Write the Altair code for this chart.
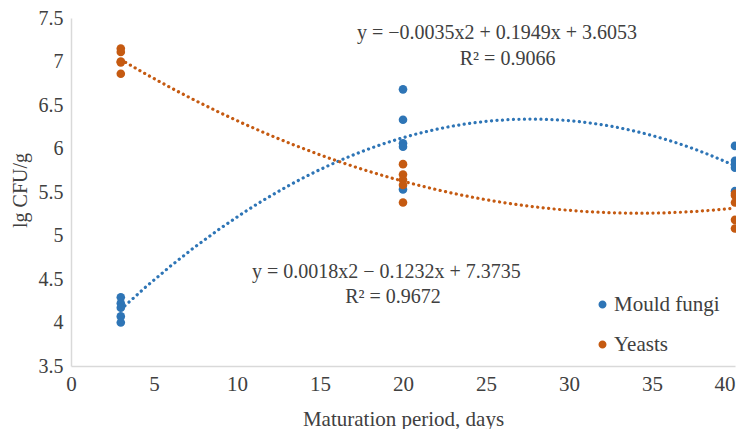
import altair as alt
import pandas as pd

# Data
days_mould = [3, 3, 3, 3, 3, 20, 20, 20, 20, 20, 40, 40, 40, 40, 40]
cfu_mould = [4.29, 4.22, 4.17, 4.07, 4.00, 6.68, 6.33, 6.06, 6.02, 5.53, 6.03, 5.86, 5.82, 5.78, 5.51]
days_yeast = [3, 3, 3, 3, 3, 20, 20, 20, 20, 20, 40, 40, 40, 40, 40]
cfu_yeast = [7.15, 7.11, 7.00, 6.99, 6.86, 5.82, 5.70, 5.64, 5.58, 5.38, 5.48, 5.46, 5.38, 5.18, 5.08]

series_names = ["Mould fungi", "Yeasts"]
series_colors = ["#2E75B6", "#C55A11"]

eq_labels = [
    "y = \u22120.0035x2 + 0.1949x + 3.6053",
    "R\u00b2 = 0.9066",
    "y = 0.0018x2 \u2212 0.1232x + 7.3735",
    "R\u00b2 = 0.9672",
]
eq_x = [25.66, 26.3, 19.0, 19.4]
eq_y = [7.33, 7.03, 4.58, 4.29]

y_ticks = [3.5, 4, 4.5, 5, 5.5, 6, 6.5, 7, 7.5]
x_ticks = [0, 5, 10, 15, 20, 25, 30, 35, 40]

df = pd.DataFrame({
    "day": days_mould + days_yeast,
    "cfu": cfu_mould + cfu_yeast,
    "series": [series_names[0]] * len(days_mould) + [series_names[1]] * len(days_yeast),
})
eq_df = pd.DataFrame({"label": eq_labels, "x": eq_x, "y": eq_y})

FONT = "Liberation Serif"
TXT = "#404040"
FS = 21

xscale = alt.Scale(domain=[0, 40], nice=False)
yscale = alt.Scale(domain=[3.5, 7.5], nice=False, zero=False)
cscale = alt.Scale(domain=series_names, range=series_colors)

x_axis = alt.Axis(values=x_ticks, title="Maturation period, days", grid=False, ticks=False,
                  domainColor="#D9D9D9", domainWidth=1.5, labelPadding=7, labelFlush=False,
                  labelAlign=alt.ExprRef(expr="datum.value >= 40 ? 'right' : 'center'"),
                  titleY=42, titleBaseline="top")
y_axis = alt.Axis(values=y_ticks, format="~g", title="lg CFU/g", grid=False, ticks=False,
                  domainColor="#D9D9D9", domainWidth=1.5, labelPadding=8, labelFontSize=20,
                  titleX=-41, titleY=172, titleFontSize=20)

base = alt.Chart(df)

lines = base.transform_regression(
    "day", "cfu", method="poly", order=2, groupby=["series"], extent=[3, 40]
).mark_line(strokeDash=[0.1, 5.4], strokeCap="round", strokeWidth=3.2).encode(
    x=alt.X("day:Q", scale=xscale, axis=x_axis),
    y=alt.Y("cfu:Q", scale=yscale, axis=y_axis),
    color=alt.Color("series:N", scale=cscale, legend=None),
)

points = base.mark_circle(size=74, opacity=1).encode(
    x=alt.X("day:Q", scale=xscale, axis=x_axis),
    y=alt.Y("cfu:Q", scale=yscale, axis=y_axis),
    color=alt.Color("series:N", scale=cscale, legend=alt.Legend(
        title=None, orient="none", legendX=521, legendY=276, symbolType="circle",
        symbolSize=42, labelFontSize=FS, labelFont=FONT, labelColor=TXT,
        labelOffset=1, rowPadding=18, padding=0)),
)

eqs = alt.Chart(eq_df).mark_text(font=FONT, fontSize=20, color=TXT).encode(
    x=alt.X("x:Q", scale=xscale), y=alt.Y("y:Q", scale=yscale), text="label:N"
)

chart = alt.layer(points, lines, eqs).properties(
    width=664, height=348,
    autosize=alt.AutoSizeParams(type="none"),
    padding={"left": 63, "top": 10, "right": 1, "bottom": 63},
).configure_view(stroke=None).configure_axis(
    labelFont=FONT, titleFont=FONT, labelFontSize=FS, titleFontSize=FS,
    labelColor=TXT, titleColor=TXT, titleFontWeight="normal",
)

chart.save("out.html", embed_options={"renderer": "svg", "actions": False})
